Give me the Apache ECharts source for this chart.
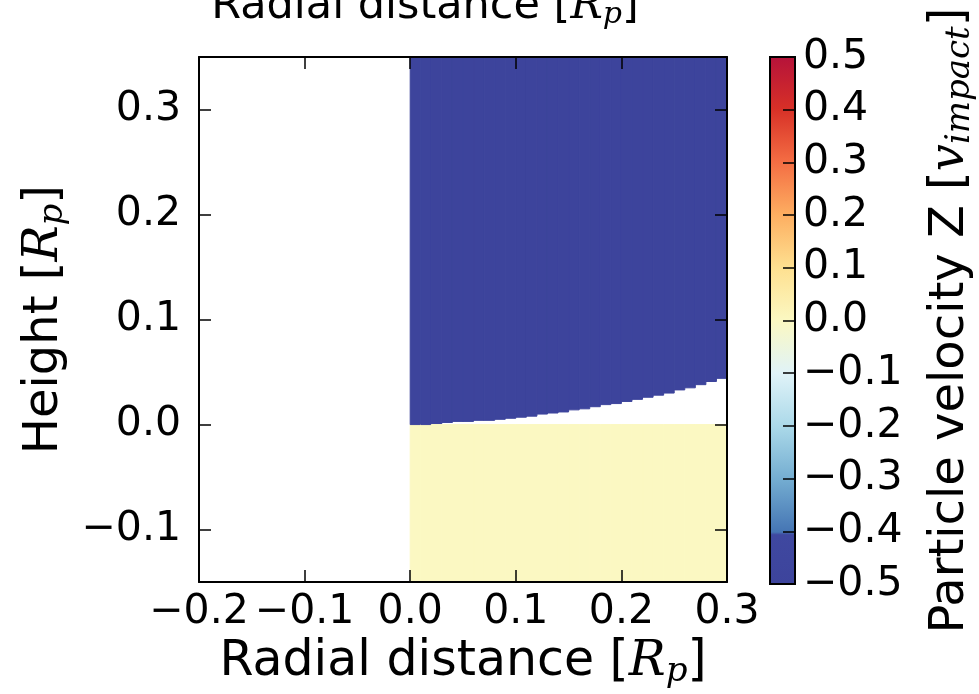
<!DOCTYPE html>
<html>
<head>
<meta charset="utf-8">
<script src="https://cdn.jsdelivr.net/npm/echarts@6/dist/echarts.min.js"></script>
<style>
html,body{margin:0;padding:0;background:#fff;}
#chart{width:979px;height:694px;}
</style>
</head>
<body>
<div id="chart"></div>
<script>
// ---- data ----
const xTicks = [-0.2, -0.1, 0.0, 0.1, 0.2, 0.3];
const yTicks = [-0.1, 0.0, 0.1, 0.2, 0.3];
const cbTicks = [-0.5, -0.4, -0.3, -0.2, -0.1, 0.0, 0.1, 0.2, 0.3, 0.4, 0.5];
// column left edges (radial distance) of the simulated grid
const columnLeft = [0.00,0.01,0.02,0.03,0.04,0.05,0.06,0.07,0.08,0.09,
                    0.10,0.11,0.12,0.13,0.14,0.15,0.16,0.17,0.18,0.19,
                    0.20,0.21,0.22,0.23,0.24,0.25,0.26,0.27,0.28,0.29];
const columnWidth = 0.01;
// lower edge of the falling (blue) region for each column
const blueBottom = [0.000,0.000,0.001,0.002,0.003,0.003,0.004,0.004,0.005,0.006,
                    0.007,0.008,0.010,0.011,0.012,0.014,0.015,0.017,0.019,0.020,
                    0.022,0.024,0.026,0.028,0.030,0.033,0.035,0.038,0.041,0.044];
const groundTop = 0.0;      // top of the yellow (resting) region
const groundValue = 0.0;    // particle velocity Z in the resting region
const blueValue = -0.5;     // particle velocity Z in the falling region
const xRange = [-0.2, 0.3];
const yRange = [-0.15, 0.35];
const cbRange = [-0.5, 0.5];
const cmapColors = ['#3d449c','#4575b4','#74add1','#abd9e9','#e0f3f8','#fbf8c2',
                    '#fee090','#fdae61','#f46d43','#d73027','#b5123a'];

// ---- build cells ----
const cells = [];
columnLeft.forEach((x0, i) => {
  const x1 = x0 + columnWidth;
  cells.push([x0, x1, yRange[0], groundTop, groundValue]);
  cells.push([x0, x1, blueBottom[i], yRange[1], blueValue]);
});

const FONT = 'DejaVu Sans';
const FS = 41;     // tick labels
const NFS = 49;    // axis names
const fmt = v => (v < -1e-9 ? '\u2212' : '') + Math.abs(v).toFixed(1);
function mathRich(size) {
  return {
    i: {fontFamily: 'DejaVu Serif', fontStyle: 'italic', fontSize: size, color: '#000'},
    s: {fontFamily: 'DejaVu Serif', fontStyle: 'italic', fontSize: Math.round(size * 0.7), color: '#000',
        padding: [Math.round(size * 0.38), 0, 0, 0]}
  };
}
const axisLine = {show: true, onZero: false, lineStyle: {color: '#000', width: 2}};
const tick = {show: true, inside: true, length: 12, lineStyle: {color: '#000', width: 1.5}};
const labelStyle = {fontFamily: FONT, fontSize: FS, color: '#000'};

const chart = echarts.init(document.getElementById('chart'));
chart.setOption({
  backgroundColor: '#fff',
  animation: false,
  grid: [
    {left: 199, top: 57, width: 528, height: 527},
    {left: 770, top: 57, width: 25, height: 527}
  ],
  graphic: [{
    type: 'text', x: 425, y: 30,
    style: {
      text: 'Radial distance [{i|R}{s|p}]',
      font: '43px "' + FONT + '"', fill: '#000',
      align: 'center', verticalAlign: 'bottom',
      rich: mathRich(43)
    }
  }],
  visualMap: {
    type: 'continuous', show: false, seriesIndex: 0, dimension: 4,
    min: cbRange[0], max: cbRange[1], inRange: {color: cmapColors}
  },
  xAxis: [
    {type: 'value', gridIndex: 0, z: 10, min: xRange[0], max: xRange[1], interval: 0.1, position: 'bottom',
     axisLine, axisTick: tick, splitLine: {show: false},
     axisLabel: Object.assign({formatter: fmt, margin: 10, customValues: xTicks}, labelStyle),
     name: 'Radial distance [{i|R}{s|p}]', nameLocation: 'middle', nameGap: 49,
     nameTextStyle: {fontFamily: FONT, fontSize: NFS, color: '#000', rich: mathRich(NFS)}},
    {type: 'value', gridIndex: 0, z: 10, min: xRange[0], max: xRange[1], interval: 0.1, position: 'top',
     axisLine, axisTick: tick, axisLabel: {show: false}, splitLine: {show: false}},
    {type: 'value', gridIndex: 1, min: 0, max: 1, show: false}
  ],
  yAxis: [
    {type: 'value', gridIndex: 0, z: 10, min: yRange[0], max: yRange[1], position: 'left',
     axisLine, axisTick: Object.assign({customValues: yTicks}, tick), splitLine: {show: false},
     axisLabel: Object.assign({formatter: fmt, margin: 18, customValues: yTicks}, labelStyle),
     name: 'Height [{i|R}{s|p}]', nameLocation: 'middle', nameGap: 126, nameRotate: 90,
     nameTextStyle: {fontFamily: FONT, fontSize: 48, color: '#000', rich: mathRich(48)}},
    {type: 'value', gridIndex: 0, z: 10, min: yRange[0], max: yRange[1], position: 'right',
     axisLine, axisTick: Object.assign({customValues: yTicks}, tick), axisLabel: {show: false}, splitLine: {show: false}},
    {type: 'value', gridIndex: 1, z: 10, min: cbRange[0], max: cbRange[1], interval: 0.1, position: 'right',
     axisLine: {show: false, onZero: false}, axisTick: Object.assign({}, tick, {customValues: cbTicks}), splitLine: {show: false},
     axisLabel: Object.assign({formatter: fmt, margin: 8, customValues: cbTicks}, labelStyle),
     name: 'Particle velocity Z [{i|v}{s|impact}]', nameLocation: 'middle', nameGap: 130, nameRotate: 90,
     nameTextStyle: {fontFamily: FONT, fontSize: 48, color: '#000', rich: mathRich(48)}}
  ],
  series: [
    {
      type: 'custom', xAxisIndex: 0, yAxisIndex: 0, data: cells, clip: true, silent: true,
      renderItem: function (params, api) {
        const p0 = api.coord([api.value(0), api.value(3)]);
        const p1 = api.coord([api.value(1), api.value(2)]);
        const c = api.visual('color');
        return {type: 'rect',
          shape: {x: p0[0], y: p0[1], width: p1[0] - p0[0], height: p1[1] - p0[1]},
          style: {fill: c, stroke: c, lineWidth: 1}};
      },
      z: 1
    },
    {
      type: 'custom', xAxisIndex: 2, yAxisIndex: 2, data: [[0, 1, cbRange[0], cbRange[1]]], silent: true,
      renderItem: function (params, api) {
        const p0 = api.coord([api.value(0), api.value(3)]);
        const p1 = api.coord([api.value(1), api.value(2)]);
        const stops = cmapColors.map((c, k) => ({offset: 1 - k / (cmapColors.length - 1), color: c}));
        stops.splice(stops.length - 1, 0, {offset: 0.905, color: '#3f48a0'});
        stops.sort((a, b) => a.offset - b.offset);
        return {type: 'rect',
          shape: {x: p0[0], y: p0[1], width: p1[0] - p0[0], height: p1[1] - p0[1]},
          style: {fill: new echarts.graphic.LinearGradient(0, 0, 0, 1, stops),
                  stroke: '#000', lineWidth: 2}};
      },
      z: 1
    }
  ]
});
</script>
</body>
</html>
